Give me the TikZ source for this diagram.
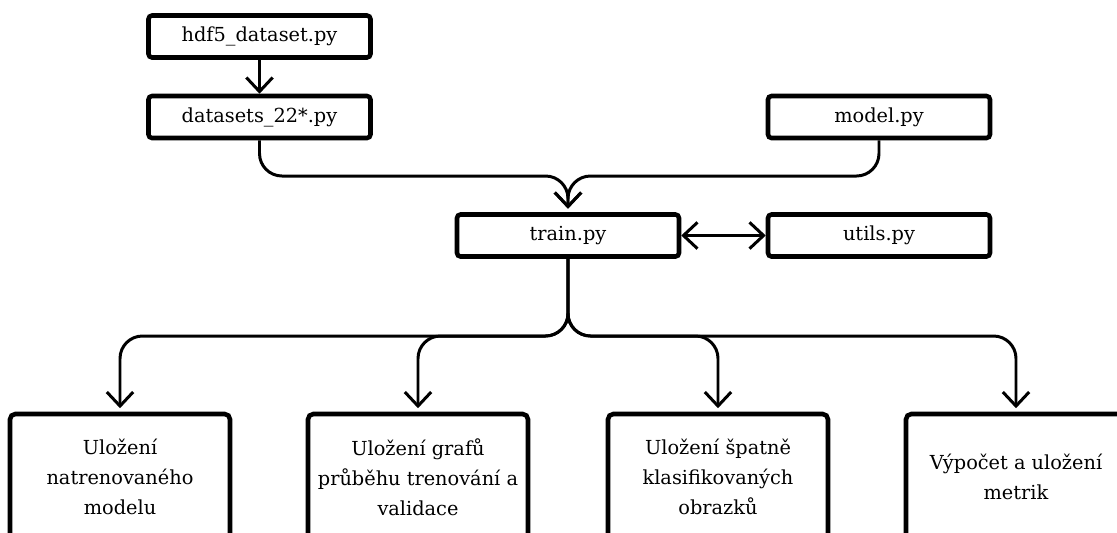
\documentclass[tikz,border=0pt]{standalone}
\usepackage{fontspec}
\setmainfont{DejaVu Serif}
\usetikzlibrary{arrows.meta}
\usetikzlibrary{positioning}

\tikzset{
    filebox/.style={draw,line width=2.6pt,rounded corners=2pt,minimum width=4.44cm,minimum height=0.84cm,font=\fontsize{11}{13}\selectfont},
    taskbox/.style={draw,line width=2.6pt,rounded corners=3pt,minimum width=4.4cm,minimum height=2.52cm,align=center,font=\fontsize{11}{17}\selectfont},
    conn/.style={line width=1.7pt,rounded corners=0.45cm},
}

\begin{document}
\begin{tikzpicture}[x=0.02cm,y=-0.02cm]
\clip (0,0) rectangle (1117,532);

\begin{scope}
    \node[filebox] (hdf) at (259.5,36.5) {hdf5\_dataset.py};
    \node[filebox] (dset) at (259.5,117) {datasets\_22*.py};
    \node[filebox] (model) at (879,117) {model.py};
    \node[filebox] (train) at (568,235.5) {train.py};
    \node[filebox] (utils) at (879,235.5) {utils.py};
\end{scope}

\begin{scope}
    \node[taskbox] (save) at (120,477) {Uložení\\natrenovaného\\modelu};
    \node[taskbox] (plot) at (418,477) {Uložení grafů\\průběhu trenování a\\validace};
    \node[taskbox] (wrong) at (718,477) {Uložení špatně\\klasifikovaných\\obrazků};
    \node[taskbox] (metr) at (1016,477) {Výpočet a uložení\\metrik};
\end{scope}

\coordinate (merge) at (568,176);
\coordinate (split) at (568,336);

\begin{scope}[every path/.style={conn},>={Straight Barb[length=8pt,width=15pt]}]
    \draw[->] (hdf) -- (dset);
    \foreach \u in {dset, model}
        \draw[->] (\u.south) |- (merge) -- ([yshift=2pt]train.north);
    \draw[<->] (train) -- (utils);
    \foreach \v in {save, plot, wrong, metr}
        \draw[->] (train.south) -- (split) -| ([yshift=2pt]\v.north);
\end{scope}
\end{tikzpicture}
\end{document}
